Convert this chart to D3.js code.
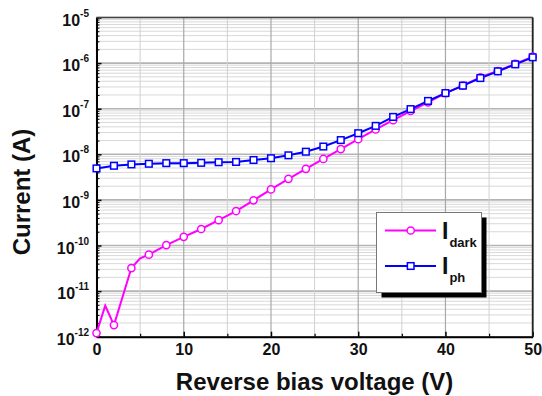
<html>
<script src="https://d3js.org/d3.v7.min.js"></script>
<style>
  body { margin: 0; background: #fff; }
  text { font-family: "Liberation Sans", Arial, sans-serif; font-weight: bold; }
</style>
<body>
<svg width="542" height="396"></svg>
<script>

// reverse bias (V) and dark current (A)
var darkV = [0, 1, 2, 4, 5, 6, 8, 10, 12, 14, 16, 18, 20, 22, 24, 26, 28, 30, 32, 34, 36, 38, 40, 42, 44, 46, 48, 50];
var darkI = [1.2e-12, 4.8e-12, 1.8e-12, 3.2e-11, 5.2e-11, 6.3e-11, 1.02e-10, 1.55e-10, 2.3e-10, 3.6e-10, 5.7e-10, 9.8e-10,
             1.7e-9, 2.9e-9, 4.8e-9, 7.9e-9, 1.3e-8, 2.15e-8, 3.5e-8, 5.6e-8, 8.9e-8, 1.38e-7, 2.2e-7, 3.2e-7, 4.9e-7, 6.7e-7, 9.6e-7, 1.38e-6];

// photocurrent
var phV = [0, 2, 4, 6, 8, 10, 12, 14, 16, 18, 20, 22, 24, 26, 28, 30, 32, 34, 36, 38, 40, 42, 44, 46, 48, 50];
var phI = [4.9e-9, 5.6e-9, 6.0e-9, 6.2e-9, 6.4e-9, 6.4e-9, 6.5e-9, 6.7e-9, 6.8e-9, 7.5e-9, 8.2e-9, 9.5e-9, 1.14e-8,
           1.48e-8, 2.05e-8, 2.9e-8, 4.2e-8, 6.6e-8, 9.8e-8, 1.48e-7, 2.2e-7, 3.2e-7, 4.7e-7, 6.6e-7, 9.4e-7, 1.34e-6];

var xTicks = [0, 10, 20, 30, 40, 50];
var xMinor = [5, 15, 25, 35, 45];
var yExps = [-12, -11, -10, -9, -8, -7, -6, -5];

var svg = d3.select('svg');
var mLeft = 96.5, mRight = 532.7, mTop = 17.5, mBottom = 336.7;

var x = d3.scaleLinear().domain([0, 50]).range([mLeft, mRight]);
var y = d3.scaleLog().domain([1e-12, 1e-5]).range([mBottom, mTop]);

// decade + minor values for the log axis
var yMajor = yExps.map(function(e) { return Math.pow(10, e); });
var yMinorVals = [];
yExps.slice(0, -1).forEach(function(e) {
  for (var k = 2; k <= 9; k++) yMinorVals.push(k * Math.pow(10, e));
});

// grid
var grid = svg.append('g');
grid.selectAll('.hmin').data(yMinorVals).enter().append('line')
  .attr('x1', mLeft).attr('x2', mRight)
  .attr('y1', function(d) { return y(d); }).attr('y2', function(d) { return y(d); })
  .attr('stroke', '#d8d8d8').attr('stroke-width', 1);
grid.selectAll('.hmaj').data(yMajor).enter().append('line')
  .attr('x1', mLeft).attr('x2', mRight)
  .attr('y1', function(d) { return y(d); }).attr('y2', function(d) { return y(d); })
  .attr('stroke', '#b4b4b4').attr('stroke-width', 1.6);
grid.selectAll('.vmin').data(xMinor).enter().append('line')
  .attr('y1', mTop).attr('y2', mBottom)
  .attr('x1', function(d) { return x(d); }).attr('x2', function(d) { return x(d); })
  .attr('stroke', '#d0d0d0').attr('stroke-width', 1);
grid.selectAll('.vmaj').data(xTicks).enter().append('line')
  .attr('y1', mTop).attr('y2', mBottom)
  .attr('x1', function(d) { return x(d); }).attr('x2', function(d) { return x(d); })
  .attr('stroke', '#a8a8a8').attr('stroke-width', 1.2);

// axes, ticks pointing inward
svg.append('g').attr('transform', 'translate(0,' + mBottom + ')')
  .call(d3.axisBottom(x).tickValues(xTicks).tickSize(-5).tickSizeOuter(0).tickPadding(7))
  .call(function(g) {
    g.select('.domain').attr('stroke', '#000').attr('stroke-width', 2);
    g.selectAll('.tick line').attr('stroke-width', 1.5);
    g.selectAll('text').style('font-size', '16px').style('font-weight', 'bold')
      .style('font-family', '"Liberation Sans", Arial, sans-serif').attr('fill', '#111');
  });
svg.append('g').attr('transform', 'translate(0,' + mBottom + ')')
  .call(d3.axisBottom(x).tickValues(xMinor).tickSize(-3).tickSizeOuter(0).tickFormat(''))
  .call(function(g) { g.select('.domain').remove(); g.selectAll('.tick line').attr('stroke-width', 1.2); });

svg.append('g').attr('transform', 'translate(' + mLeft + ',0)')
  .call(d3.axisLeft(y).tickValues(yMajor).tickSize(-5).tickSizeOuter(0).tickFormat(''))
  .call(function(g) {
    g.select('.domain').attr('stroke', '#000').attr('stroke-width', 2);
    g.selectAll('.tick line').attr('stroke-width', 1.5);
  });
svg.append('g').attr('transform', 'translate(' + mLeft + ',0)')
  .call(d3.axisLeft(y).tickValues(yMinorVals).tickSize(-3).tickSizeOuter(0).tickFormat(''))
  .call(function(g) { g.select('.domain').remove(); });

// y tick labels 10^n
var yl = svg.append('g').selectAll('text').data(yExps).enter().append('text')
  .attr('x', 89).attr('y', function(d) { return y(Math.pow(10, d)) + 8; })
  .attr('text-anchor', 'end').attr('fill', '#111');
yl.append('tspan').style('font-size', '16px').text('10');
yl.append('tspan').style('font-size', '10px').attr('dy', -9).text(function(d) { return d; });

// frame top/right
svg.append('line').attr('x1', mLeft).attr('x2', mRight).attr('y1', mTop).attr('y2', mTop)
  .attr('stroke', '#444').attr('stroke-width', 1.6);
svg.append('line').attr('x1', mRight).attr('x2', mRight).attr('y1', mTop).attr('y2', mBottom)
  .attr('stroke', '#222').attr('stroke-width', 1.8);

// series
var line = d3.line().x(function(d) { return x(d[0]); }).y(function(d) { return y(d[1]); });
var dark = d3.zip(darkV, darkI);
var ph = d3.zip(phV, phI);

svg.append('path').datum(dark).attr('d', line)
  .attr('fill', 'none').attr('stroke', '#ff00ff').attr('stroke-width', 2);
svg.append('path').datum(ph).attr('d', line)
  .attr('fill', 'none').attr('stroke', '#0000ff').attr('stroke-width', 2);

svg.append('g').selectAll('circle').data(dark.filter(function(d) { return d[0] % 2 === 0; }))
  .enter().append('circle')
  .attr('cx', function(d) { return x(d[0]); }).attr('cy', function(d) { return y(d[1]); })
  .attr('r', 3.6).attr('fill', '#fff').attr('stroke', '#ff00ff').attr('stroke-width', 1.5);
svg.append('g').selectAll('rect').data(ph)
  .enter().append('rect')
  .attr('x', function(d) { return x(d[0]) - 3.3; }).attr('y', function(d) { return y(d[1]) - 3.3; })
  .attr('width', 6.6).attr('height', 6.6).attr('fill', '#fff').attr('stroke', '#0000ff').attr('stroke-width', 1.5);

// legend
var lg = svg.append('g');
lg.append('rect').attr('x', 381.5).attr('y', 217.5).attr('width', 105).attr('height', 80).attr('fill', '#000');
lg.append('rect').attr('x', 376.5).attr('y', 212.5).attr('width', 105).attr('height', 80)
  .attr('fill', '#fff').attr('stroke', '#777').attr('stroke-width', 1);

lg.append('line').attr('x1', 385).attr('x2', 436).attr('y1', 230.5).attr('y2', 230.5)
  .attr('stroke', '#ff00ff').attr('stroke-width', 2);
lg.append('circle').attr('cx', 410.7).attr('cy', 230.5).attr('r', 3.6)
  .attr('fill', '#fff').attr('stroke', '#ff00ff').attr('stroke-width', 1.5);
lg.append('line').attr('x1', 385).attr('x2', 436).attr('y1', 266).attr('y2', 266)
  .attr('stroke', '#0000ff').attr('stroke-width', 2);
lg.append('rect').attr('x', 407.4).attr('y', 262.7).attr('width', 6.6).attr('height', 6.6)
  .attr('fill', '#fff').attr('stroke', '#0000ff').attr('stroke-width', 1.5);

var t1 = lg.append('text').attr('x', 442).attr('y', 238.5).attr('fill', '#111');
t1.append('tspan').style('font-size', '23px').text('I');
t1.append('tspan').style('font-size', '13px').attr('dx', 1).attr('dy', 8.5).text('dark');
var t2 = lg.append('text').attr('x', 442).attr('y', 273.5).attr('fill', '#111');
t2.append('tspan').style('font-size', '23px').text('I');
t2.append('tspan').style('font-size', '13px').attr('dx', 1).attr('dy', 8.5).text('ph');

// axis titles
svg.append('text').attr('x', (mLeft + mRight) / 2).attr('y', 390)
  .attr('text-anchor', 'middle').style('font-size', '24px').attr('fill', '#111')
  .text('Reverse bias voltage (V)');
svg.append('text').attr('transform', 'translate(30,192) rotate(-90)')
  .attr('text-anchor', 'middle').style('font-size', '24px').attr('fill', '#111')
  .text('Current (A)');

</script>
</body>
</html>
